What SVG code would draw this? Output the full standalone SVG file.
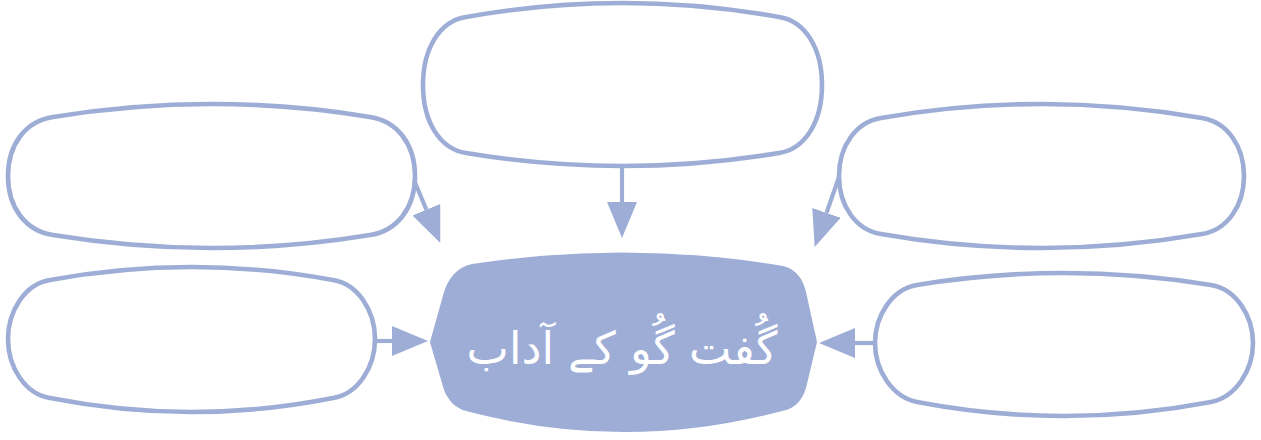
<svg xmlns="http://www.w3.org/2000/svg" width="1261" height="440" viewBox="0 0 1261 440">
<style>
.box{fill:#ffffff;stroke:#9dadd6;stroke-width:4.6}
.hub{fill:#9dadd6;stroke:none}
.conn{stroke:#9dadd6;stroke-width:4.2;fill:none}
.title{fill:#ffffff;font-family:"DejaVu Sans","Noto Sans",sans-serif;font-size:45px}
</style>
<defs>
<marker id="ah" markerUnits="userSpaceOnUse" markerWidth="36" markerHeight="30" viewBox="0 0 36 30" refX="0" refY="15" orient="auto">
<path d="M0,0 L36,15 L0,30 Z" fill="#9dadd6"/>
</marker>
</defs>
<rect width="1261" height="440" fill="#ffffff"/>
<g id="node-top">
<path class="box" d="M 466 17 Q 622 -11 779 17 C 805 21 822 48 822 85 C 822 122 805 149 779 153 Q 622 179 466 153 C 440 149 423 122 423 85 C 423 48 440 21 466 17 Z"/>
</g>
<g id="node-top-left">
<path class="box" d="M 53 117 Q 212 91 370 117 C 397 121 415 144 415 176 C 415 208 397 231 370 235 Q 212 261 53 235 C 26 231 8 208 8 176 C 8 144 26 121 53 117 Z"/>
</g>
<g id="node-top-right">
<path class="box" d="M 881 118 Q 1041 90 1202 118 C 1227 122 1244 146 1244 176 C 1244 206 1227 230 1202 234 Q 1041 262 881 234 C 856 230 839 206 839 176 C 839 146 856 122 881 118 Z"/>
</g>
<g id="node-bottom-left">
<path class="box" d="M 50 280 Q 192 254 333 280 C 358 284 375 311 375 339 C 375 367 358 394 333 398 Q 192 426 50 398 C 25 394 8 367 8 339 C 8 311 25 284 50 280 Z"/>
</g>
<g id="node-bottom-right">
<path class="box" d="M 917 285 Q 1064 261 1211 285 C 1236 289 1253 316 1253 343 C 1253 370 1236 397 1211 402 Q 1064 430 917 402 C 892 397 875 370 875 343 C 875 316 892 289 917 285 Z"/>
</g>
<g id="node-center">
<path class="hub" d="M 472 264 Q 630 240 783 266 C 797 269 803 280 806 292 L 817 342 L 806 388 C 802 401 794 409 782 411 Q 625 453 466 411 C 455 408 448 400 444 390 L 430 342 L 444 292 C 448 279 457 267 472 264 Z"/>
<text class="title" x="622" y="364" text-anchor="middle" direction="rtl">گُفت گُو کے آداب</text>
</g>
<g id="connectors">
<line class="conn" x1="414" y1="180" x2="426.4" y2="209.7" marker-end="url(#ah)"/>
<line class="conn" x1="622" y1="166" x2="622" y2="202" marker-end="url(#ah)"/>
<line class="conn" x1="839" y1="177" x2="826.5" y2="212.9" marker-end="url(#ah)"/>
<line class="conn" x1="375" y1="341" x2="392" y2="341" marker-end="url(#ah)"/>
<line class="conn" x1="875" y1="343" x2="855" y2="343" marker-end="url(#ah)"/>
</g>
</svg>
